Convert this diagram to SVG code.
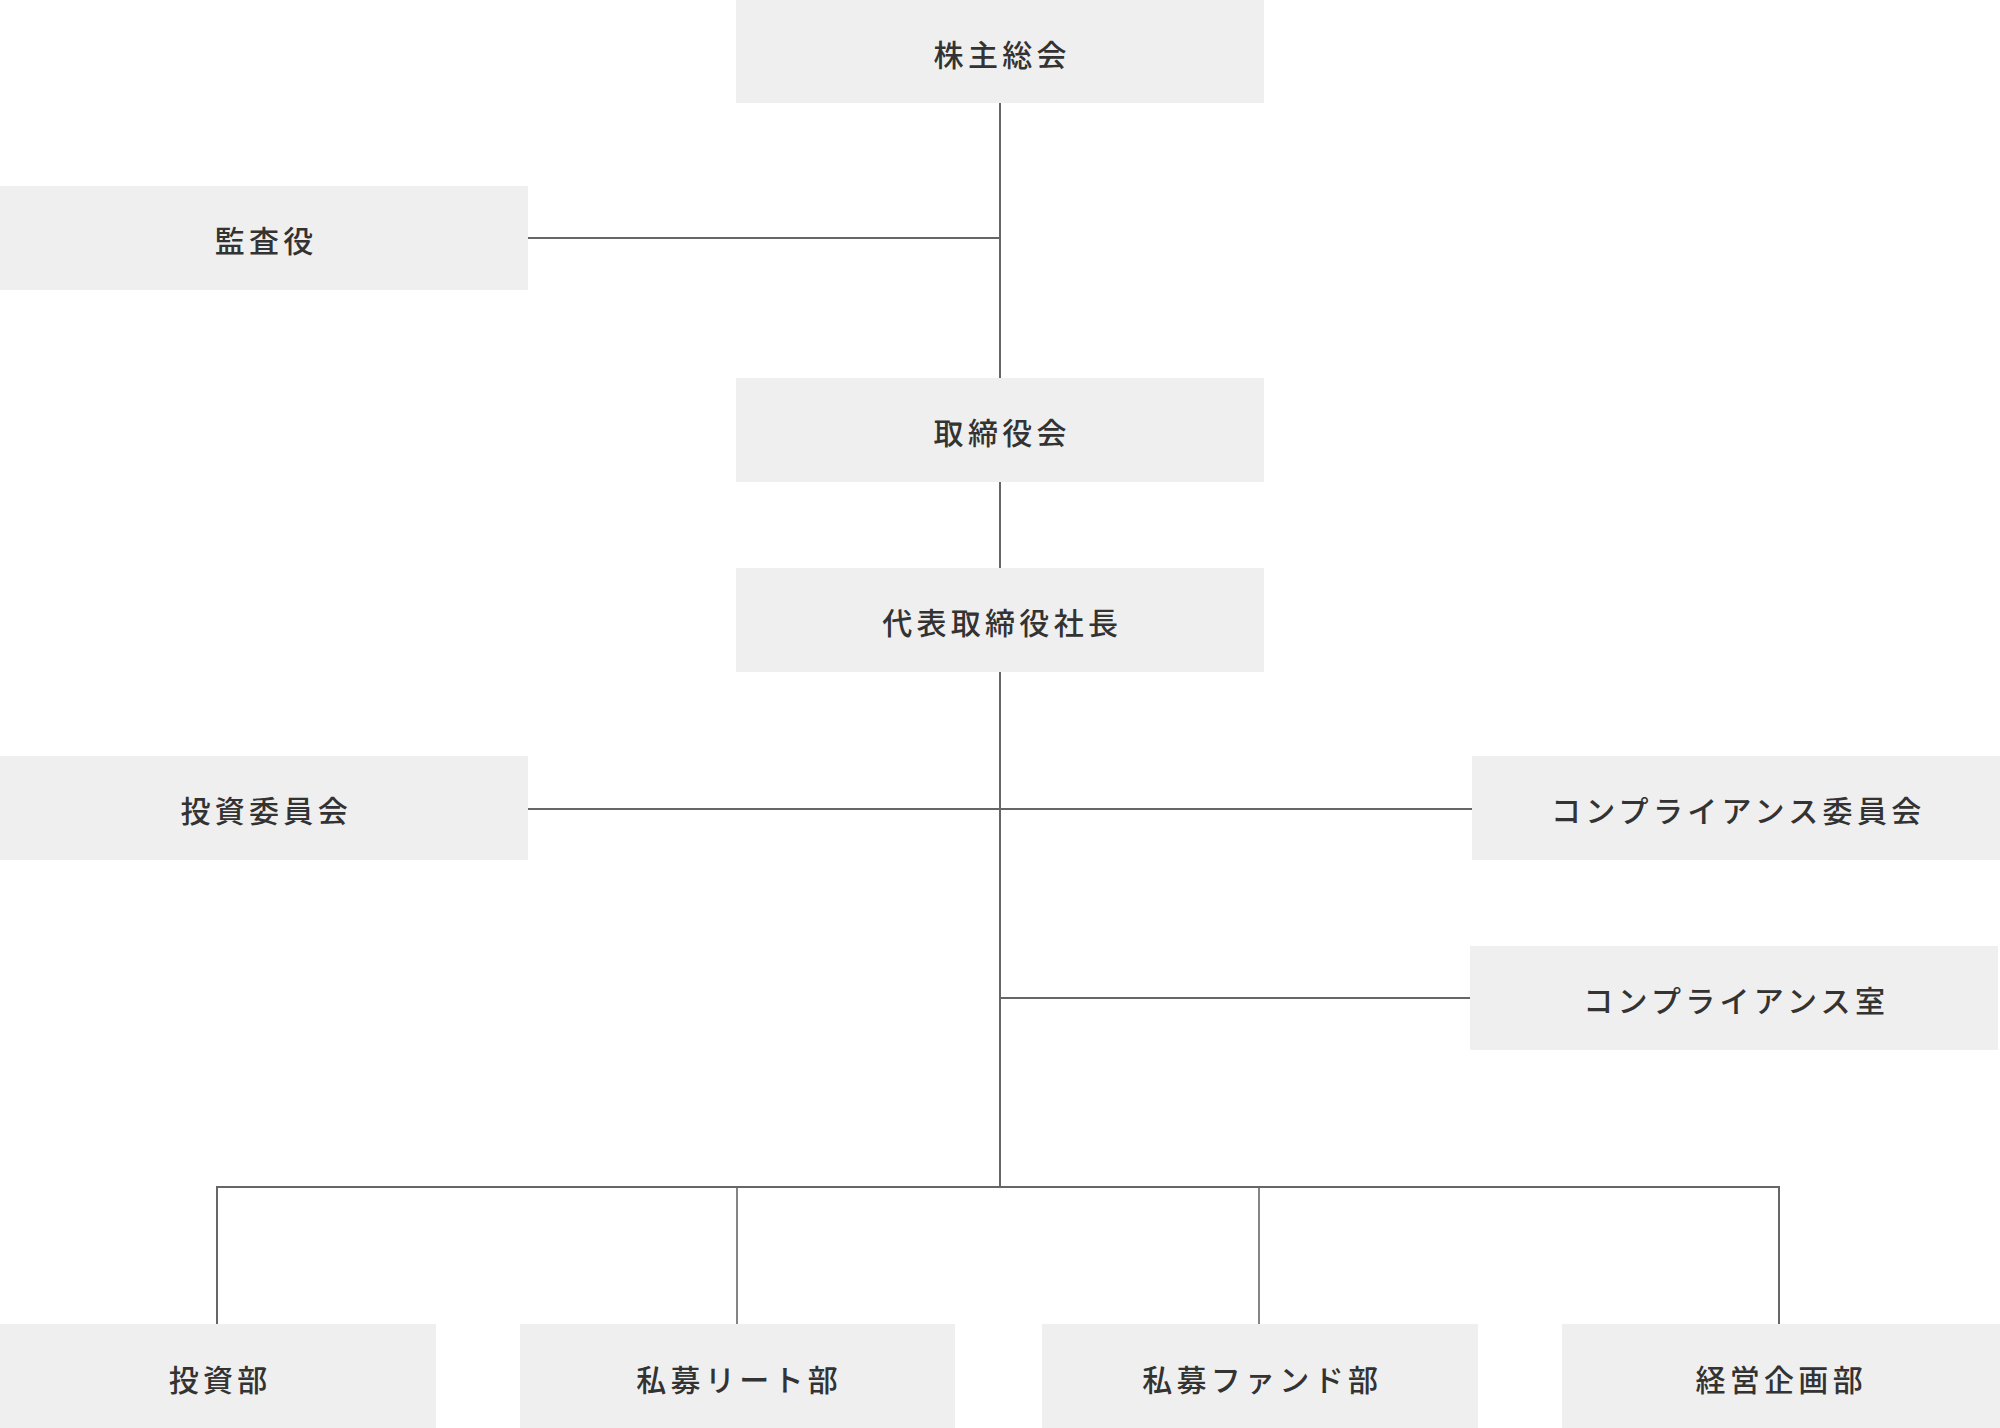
<svg xmlns="http://www.w3.org/2000/svg" width="2000" height="1428" viewBox="0 0 2000 1428">
<style>
.box{fill:#efefef}
.lbl{font-family:"Noto Sans CJK JP","Noto Sans",sans-serif;font-size:30px;font-weight:500;letter-spacing:4.3px;fill:#333;text-anchor:middle;dominant-baseline:central}
.ln{stroke:#666;stroke-width:2;fill:none}
.dr{stroke:#666;stroke-width:1.6;fill:none}
</style>
<rect width="2000" height="1428" fill="#fff"/>
<g id="connectors">
<line class="ln" x1="1000" y1="103" x2="1000" y2="378"/>
<line class="ln" x1="528" y1="238" x2="1000" y2="238"/>
<line class="ln" x1="1000" y1="482" x2="1000" y2="568"/>
<line class="ln" x1="1000" y1="672" x2="1000" y2="1188"/>
<line class="ln" x1="528" y1="809" x2="1472" y2="809"/>
<line class="ln" x1="1000" y1="998" x2="1470" y2="998"/>
<polyline class="ln" points="217,1324 217,1187 1779,1187 1779,1324"/>
<line class="dr" x1="737" y1="1187" x2="737" y2="1324"/>
<line class="dr" x1="1259" y1="1187" x2="1259" y2="1324"/>
</g>
<g id="n-kabunushi"><rect class="box" x="736" y="0" width="528" height="103"/><text class="lbl" x="1002.2" y="53">株主総会</text></g>
<g id="n-kansayaku"><rect class="box" x="0" y="186" width="528" height="104"/><text class="lbl" x="266.2" y="239">監査役</text></g>
<g id="n-torishimariyakukai"><rect class="box" x="736" y="378" width="528" height="104"/><text class="lbl" x="1002.2" y="431">取締役会</text></g>
<g id="n-shacho"><rect class="box" x="736" y="568" width="528" height="104"/><text class="lbl" x="1002.2" y="621">代表取締役社長</text></g>
<g id="n-toushi-iinkai"><rect class="box" x="0" y="756" width="528" height="104"/><text class="lbl" x="266.2" y="809">投資委員会</text></g>
<g id="n-comp-iinkai"><rect class="box" x="1472" y="756" width="528" height="104"/><text class="lbl" x="1738.2" y="809">コンプライアンス委員会</text></g>
<g id="n-comp-shitsu"><rect class="box" x="1470" y="946" width="528" height="104"/><text class="lbl" x="1736.2" y="999">コンプライアンス室</text></g>
<g id="n-toushibu"><rect class="box" x="0" y="1324" width="436" height="104"/><text class="lbl" x="220.2" y="1378">投資部</text></g>
<g id="n-reit"><rect class="box" x="520" y="1324" width="435" height="104"/><text class="lbl" x="739.2" y="1378">私募リート部</text></g>
<g id="n-fund"><rect class="box" x="1042" y="1324" width="436" height="104"/><text class="lbl" x="1262.2" y="1378">私募ファンド部</text></g>
<g id="n-keiei"><rect class="box" x="1562" y="1324" width="438" height="104"/><text class="lbl" x="1781.2" y="1378">経営企画部</text></g>
</svg>
